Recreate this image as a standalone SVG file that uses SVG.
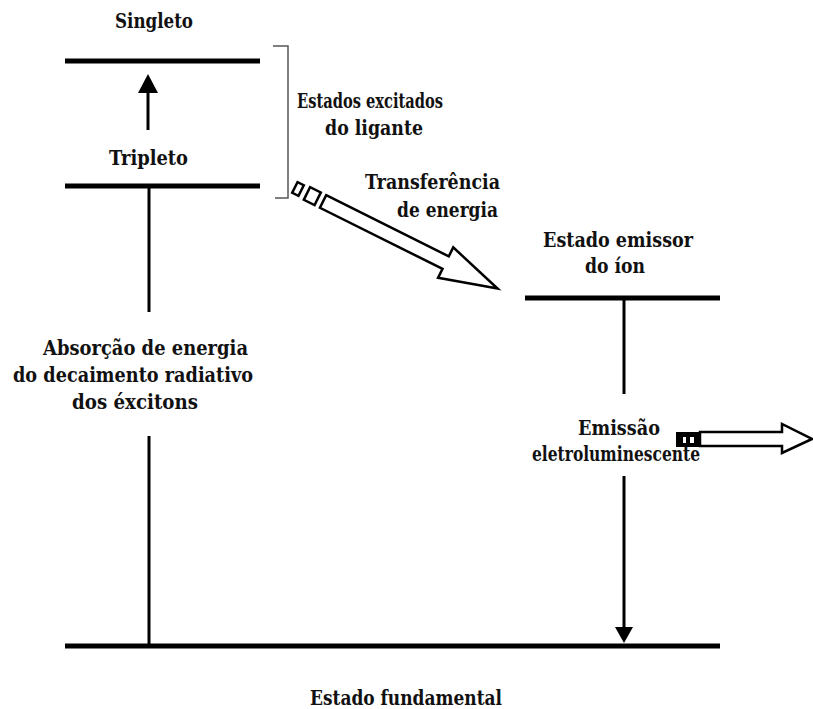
<svg xmlns="http://www.w3.org/2000/svg" width="813" height="709" viewBox="0 0 813 709">
<style>
.t{font-family:"DejaVu Serif","Liberation Serif",serif;font-weight:bold;font-size:20px;fill:#111}
.lvl{stroke:#000;stroke-width:5;fill:none}
.ln{stroke:#000;stroke-width:3;fill:none}
.br{stroke:#555;stroke-width:1.5;fill:none}
.hollow{fill:#fff;stroke:#000;stroke-width:2.5;stroke-linejoin:miter}
</style>
<rect width="813" height="709" fill="#fff"/>
<g id="singleto">
<line class="lvl" x1="65" y1="61" x2="260" y2="61"/>
<text class="t" x="115" y="28" textLength="78" lengthAdjust="spacingAndGlyphs">Singleto</text>
</g>
<g id="tripleto">
<line class="lvl" x1="65" y1="186" x2="260" y2="186"/>
<text class="t" x="109" y="165" textLength="79" lengthAdjust="spacingAndGlyphs">Tripleto</text>
</g>
<g id="estados-excitados">
<polyline class="br" points="273,46 288,46 288,198 275,198"/>
<text class="t" x="297" y="108" textLength="146" lengthAdjust="spacingAndGlyphs">Estados excitados</text>
<text class="t" x="325" y="135" textLength="98" lengthAdjust="spacingAndGlyphs">do ligante</text>
</g>
<g id="estado-emissor">
<line class="lvl" x1="525" y1="298" x2="720" y2="298"/>
<text class="t" x="543" y="247" textLength="150" lengthAdjust="spacingAndGlyphs">Estado emissor</text>
<text class="t" x="585" y="273" textLength="60" lengthAdjust="spacingAndGlyphs">do íon</text>
</g>
<g id="estado-fundamental">
<line class="lvl" x1="65" y1="646" x2="720" y2="646"/>
<text class="t" x="310" y="705" textLength="192" lengthAdjust="spacingAndGlyphs">Estado fundamental</text>
</g>
<g id="connectors">
<line class="ln" x1="148" y1="130" x2="148" y2="90"/>
<polygon points="148,74 138,93 158,93" fill="#000"/>
<line class="ln" x1="149" y1="186" x2="149" y2="312"/>
<line class="ln" x1="149" y1="436" x2="149" y2="646"/>
<line class="ln" x1="624" y1="298" x2="624" y2="394"/>
<line class="ln" x1="624" y1="476" x2="624" y2="630"/>
<polygon points="624,643 615,627 633,627" fill="#000"/>
<g id="transfer-arrow" transform="translate(298,189) rotate(26.5)">
<rect class="hollow" x="-3.5" y="-6" width="7" height="12"/>
<rect class="hollow" x="10" y="-7" width="12" height="14"/>
<polygon class="hollow" points="28,-7 165,-7 165,-17 223,0 165,17 165,7 28,7"/>
</g>
<g id="emission-arrow">
<rect x="676" y="432" width="24" height="15" fill="#000"/>
<rect x="683" y="437" width="3" height="6" fill="#fff"/>
<rect x="690" y="437" width="4" height="6" fill="#fff"/>
<polygon class="hollow" points="700,432 782,432 782,424 812,439 782,453 782,446 700,446"/>
</g>
<text class="t" x="43" y="355" textLength="205" lengthAdjust="spacingAndGlyphs">Absorção de energia</text>
<text class="t" x="13" y="382" textLength="240" lengthAdjust="spacingAndGlyphs">do decaimento radiativo</text>
<text class="t" x="72" y="409" textLength="126" lengthAdjust="spacingAndGlyphs">dos éxcitons</text>
<text class="t" x="365" y="189" textLength="135" lengthAdjust="spacingAndGlyphs">Transferência</text>
<text class="t" x="397" y="217" textLength="101" lengthAdjust="spacingAndGlyphs">de energia</text>
<text class="t" x="578" y="435" textLength="82" lengthAdjust="spacingAndGlyphs">Emissão</text>
<text class="t" x="532" y="461" textLength="168" lengthAdjust="spacingAndGlyphs">eletroluminescente</text>
</g>
</svg>
